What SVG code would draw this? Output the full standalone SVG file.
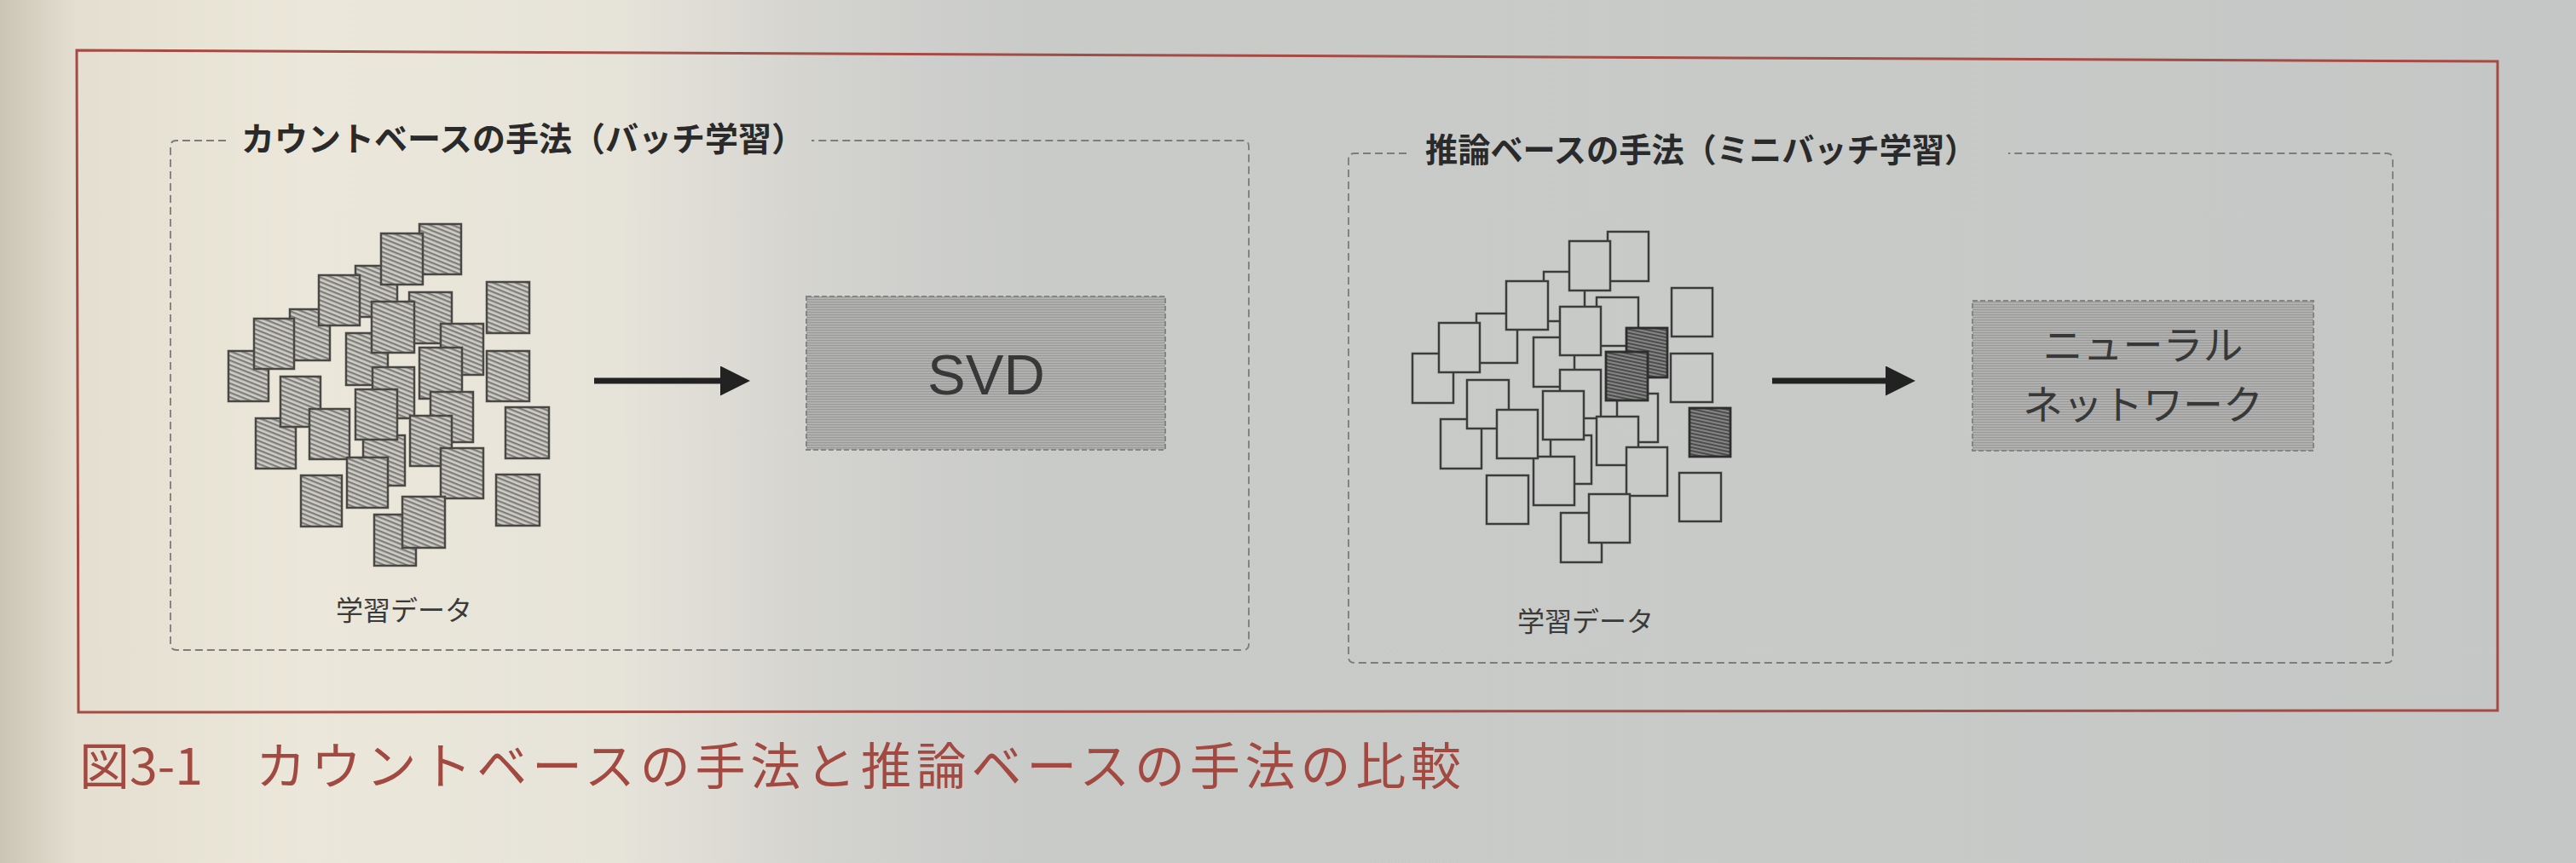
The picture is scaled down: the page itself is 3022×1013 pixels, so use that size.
<svg xmlns="http://www.w3.org/2000/svg" width="3022" height="1013" viewBox="0 0 3022 1013">
<defs>
<linearGradient id="bg" gradientUnits="userSpaceOnUse" x1="0" y1="0" x2="3022" y2="0">
<stop offset="0" stop-color="#cbc5b6"/>
<stop offset="0.03" stop-color="#e4dfd0"/>
<stop offset="0.12" stop-color="#ebe7da"/>
<stop offset="0.24" stop-color="#e6e3d9"/>
<stop offset="0.32" stop-color="#d3d3cf"/>
<stop offset="0.4" stop-color="#c9cbc9"/>
<stop offset="0.7" stop-color="#c8cac8"/>
<stop offset="1" stop-color="#c4c7c5"/>
</linearGradient>
<pattern id="hatch" width="5" height="5" patternUnits="userSpaceOnUse" patternTransform="rotate(22)">
<rect width="5" height="5" fill="#cfcdc6"/>
<rect width="5" height="2.3" fill="#807e7a"/>
</pattern>
<pattern id="dark" width="4" height="4" patternUnits="userSpaceOnUse" patternTransform="rotate(12)">
<rect width="4" height="4" fill="#858585"/>
<rect width="4" height="2" fill="#4c4c4c"/>
</pattern>
<pattern id="boxtex" width="3" height="3" patternUnits="userSpaceOnUse">
<rect width="3" height="3" fill="#b2b3b1"/>
<rect width="3" height="1.2" fill="#999a99"/>
</pattern>
<marker id="ah" markerWidth="5" markerHeight="5" refX="0" refY="2.5" orient="auto" markerUnits="strokeWidth" viewBox="0 0 5 5">
<path d="M0,0 L5,2.5 L0,5 Z" fill="#222"/>
</marker>
</defs>
<style>
.frame{fill:none;stroke:#a64a44;stroke-width:3}
.panel{fill:none;stroke:#7c7c7a;stroke-width:1.8;stroke-dasharray:9 5}
.title{font-family:"Noto Sans CJK JP","Noto Sans",sans-serif;font-weight:700;fill:#2a2a2a}
.label{font-family:"Noto Sans CJK JP","Noto Sans",sans-serif;font-size:32px;fill:#3a3a3a}
.proc{fill:url(#boxtex);stroke:#858585;stroke-width:2;stroke-dasharray:6 3}
.svdt{font-family:"Liberation Sans",Arial,sans-serif;font-size:67px;fill:#383838}
.nnt{font-family:"Noto Sans CJK JP","Noto Sans",sans-serif;font-size:47px;fill:#383838}
.h{fill:url(#hatch);stroke:#4a4845;stroke-width:2.5}
.o{fill:url(#bg);stroke:#3c3c3c;stroke-width:2.5}
.d{fill:url(#dark);stroke:#2e2e2e;stroke-width:2.8}
.arrow{stroke:#222;stroke-width:7;fill:none}
.cap{font-family:"Noto Sans CJK JP","Noto Sans",sans-serif;font-size:59px;fill:#a24a42}
</style>
<rect x="0" y="0" width="3022" height="1013" fill="url(#bg)"/>
<path class="frame" d="M90 59 L2930 72 L2930 834 L92 836 Z"/>

<g id="count-panel">
<path class="panel" d="M265 165 H207 Q200 165 200 172 V756 Q200 763 207 763 H1458 Q1465 763 1465 756 V172 Q1465 165 1458 165 H952"/>
<text class="title" x="283" y="177" font-size="39">カウントベースの手法（バッチ学習）</text>
</g>

<g id="inference-panel">
<path class="panel" d="M1650 180 H1589 Q1582 180 1582 187 V771 Q1582 778 1589 778 H2800 Q2807 778 2807 771 V187 Q2807 180 2800 180 H2356"/>
<text class="title" x="1672" y="190" font-size="38.2">推論ベースの手法（ミニバッチ学習）</text>
</g>

<g id="training-data-count">
<rect class="h" x="492" y="263" width="49" height="59"/>
<rect class="h" x="417" y="312" width="49" height="60"/>
<rect class="h" x="447" y="274" width="49" height="60"/>
<rect class="h" x="340" y="363" width="47" height="60"/>
<rect class="h" x="374" y="323" width="48" height="59"/>
<rect class="h" x="268" y="412" width="47" height="59"/>
<rect class="h" x="298" y="374" width="47" height="59"/>
<rect class="h" x="480" y="343" width="50" height="60"/>
<rect class="h" x="406" y="391" width="49" height="61"/>
<rect class="h" x="517" y="380" width="50" height="60"/>
<rect class="h" x="436" y="354" width="50" height="60"/>
<rect class="h" x="492" y="408" width="50" height="60"/>
<rect class="h" x="437" y="431" width="49" height="60"/>
<rect class="h" x="426" y="511" width="49" height="59"/>
<rect class="h" x="417" y="457" width="49" height="59"/>
<rect class="h" x="505" y="460" width="50" height="59"/>
<rect class="h" x="481" y="488" width="49" height="59"/>
<rect class="h" x="300" y="491" width="47" height="59"/>
<rect class="h" x="329" y="442" width="47" height="59"/>
<rect class="h" x="363" y="480" width="47" height="59"/>
<rect class="h" x="407" y="537" width="48" height="59"/>
<rect class="h" x="517" y="526" width="50" height="59"/>
<rect class="h" x="571" y="331" width="50" height="60"/>
<rect class="h" x="571" y="412" width="50" height="59"/>
<rect class="h" x="593" y="478" width="51" height="60"/>
<rect class="h" x="353" y="558" width="48" height="60"/>
<rect class="h" x="582" y="557" width="51" height="60"/>
<rect class="h" x="439" y="604" width="49" height="60"/>
<rect class="h" x="472" y="583" width="50" height="60"/>
<text class="label" x="394" y="728">学習データ</text>
</g>

<g id="training-data-inference">
<rect class="o" x="1886" y="272" width="48" height="58"/>
<rect class="o" x="1811" y="319" width="48" height="58"/>
<rect class="o" x="1841" y="283" width="48" height="58"/>
<rect class="o" x="1732" y="368" width="48" height="58"/>
<rect class="o" x="1767" y="330" width="49" height="57"/>
<rect class="o" x="1657" y="415" width="48" height="58"/>
<rect class="o" x="1688" y="379" width="48" height="58"/>
<rect class="o" x="1873" y="349" width="49" height="57"/>
<rect class="o" x="1799" y="396" width="48" height="58"/>
<rect class="o" x="1830" y="360" width="48" height="57"/>
<rect class="d" x="1908" y="385" width="48" height="58"/>
<rect class="o" x="1830" y="434" width="48" height="57"/>
<rect class="o" x="1897" y="462" width="48" height="57"/>
<rect class="d" x="1884" y="413" width="49" height="57"/>
<rect class="o" x="1819" y="511" width="48" height="57"/>
<rect class="o" x="1810" y="459" width="48" height="57"/>
<rect class="o" x="1799" y="536" width="48" height="57"/>
<rect class="o" x="1873" y="489" width="49" height="57"/>
<rect class="o" x="1908" y="525" width="48" height="57"/>
<rect class="o" x="1690" y="492" width="48" height="58"/>
<rect class="o" x="1721" y="446" width="49" height="57"/>
<rect class="o" x="1756" y="481" width="48" height="57"/>
<rect class="o" x="1961" y="338" width="48" height="57"/>
<rect class="o" x="1960" y="415" width="49" height="57"/>
<rect class="d" x="1982" y="479" width="48" height="57"/>
<rect class="o" x="1744" y="558" width="49" height="57"/>
<rect class="o" x="1970" y="555" width="49" height="57"/>
<rect class="o" x="1831" y="602" width="48" height="58"/>
<rect class="o" x="1864" y="580" width="48" height="57"/>
<text class="label" x="1780" y="741">学習データ</text>
</g>

<g id="svd">
<rect class="proc" x="946" y="348" width="421" height="180"/>
<text class="svdt" x="1157" y="463" text-anchor="middle">SVD</text>
</g>

<g id="neural-network">
<rect class="proc" x="2314" y="353" width="400" height="176"/>
<text class="nnt" text-anchor="middle"><tspan x="2514" y="422">ニューラル</tspan><tspan x="2514" y="492">ネットワーク</tspan></text>
</g>

<g id="connectors">
<line class="arrow" x1="697" y1="447" x2="845" y2="447" marker-end="url(#ah)"/>
<line class="arrow" x1="2079" y1="447" x2="2212" y2="447" marker-end="url(#ah)"/>
</g>

<g id="caption">
<text class="cap" x="93" y="921">図3-1</text>
<text class="cap" x="300" y="921" textLength="1414" lengthAdjust="spacing">カウントベースの手法と推論ベースの手法の比較</text>
</g>
</svg>
